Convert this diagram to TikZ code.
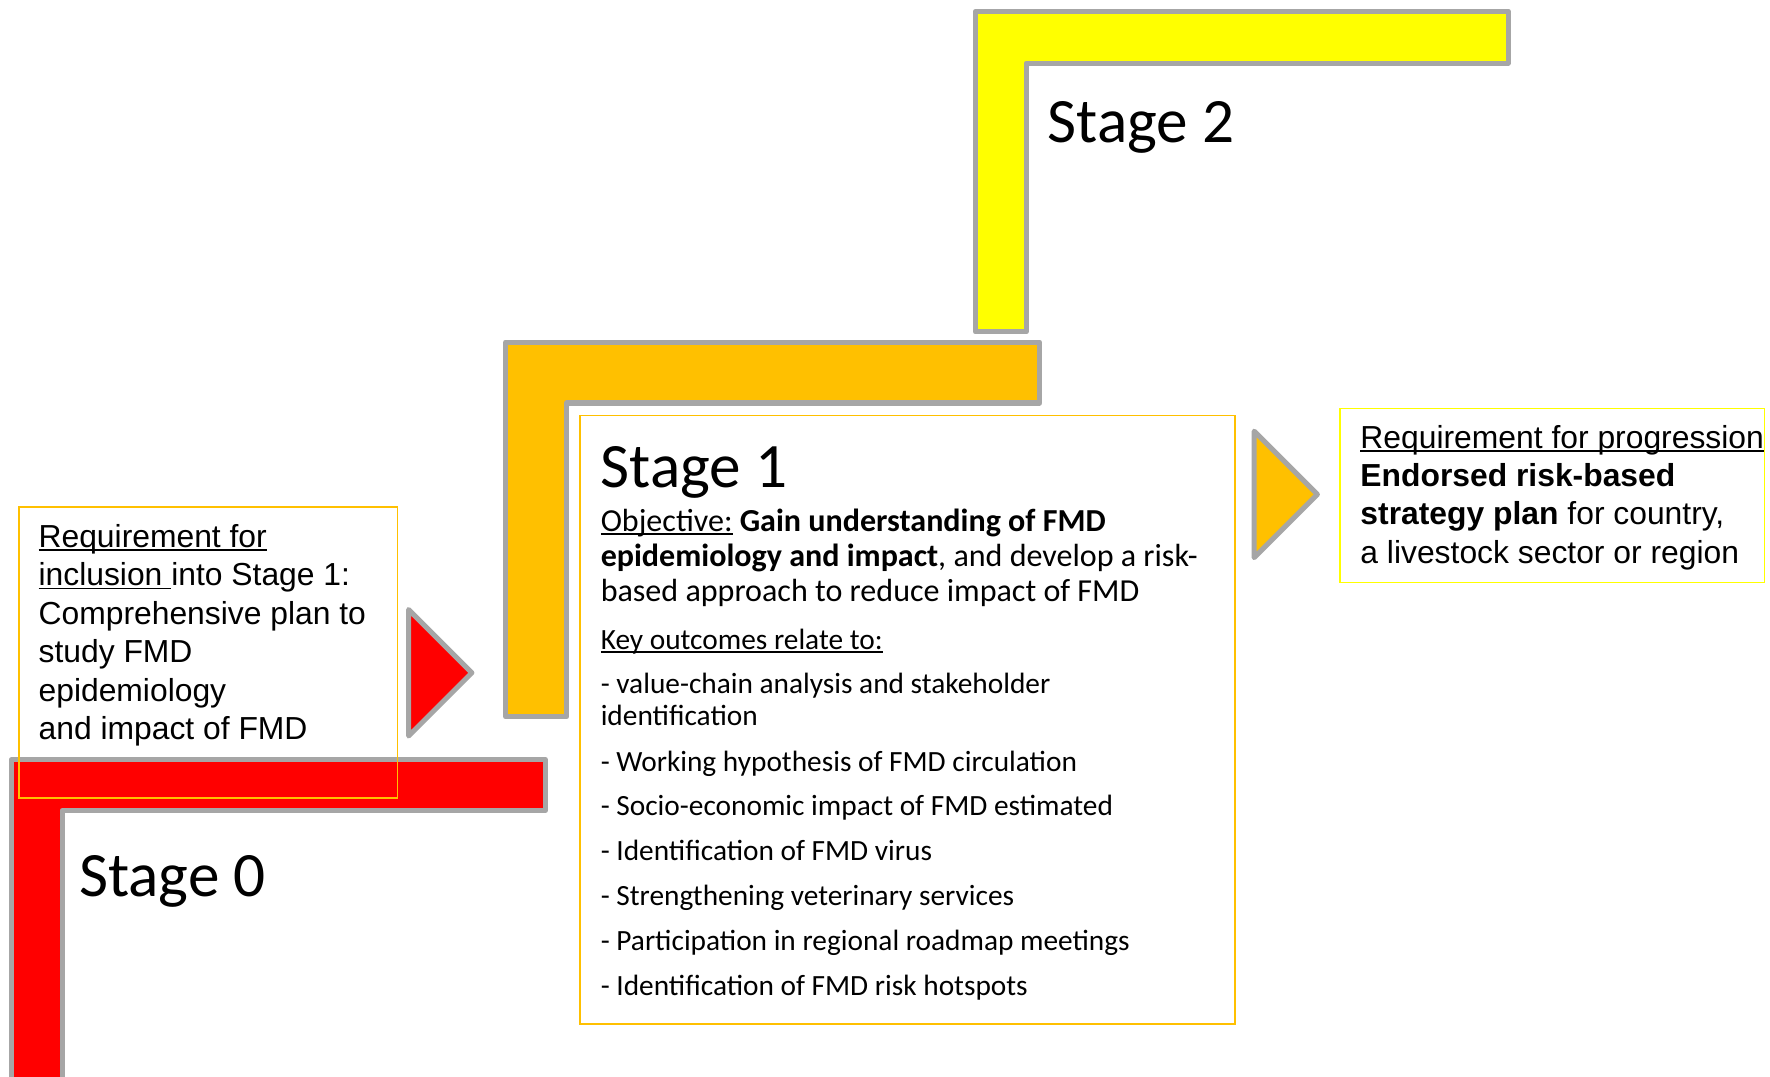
\documentclass[tikz,border=0pt]{standalone}
\usepackage{fontspec}
\setmainfont{Carlito}
\newfontfamily\arialfont{Liberation Sans}

% text with a rule a little below its baseline
\newsavebox{\undlbox}
\newcommand{\undl}[1]{\sbox{\undlbox}{#1}\rlap{\rule[-3.2pt]{\wd\undlbox}{1.7pt}}\usebox{\undlbox}}

\definecolor{barline}{HTML}{A6A6A6}
\definecolor{stagered}{HTML}{FF0000}
\definecolor{stageorange}{HTML}{FFC000}
\definecolor{stageyellow}{HTML}{FFFF00}
\definecolor{paleedge}{HTML}{D6C24A}

% orange fill with a paler strip along the left edge
\pgfdeclarehorizontalshading{pointershade}{100bp}{%
  color(0bp)=(paleedge); color(12bp)=(stageorange); color(100bp)=(stageorange)}

\tikzset{
  stagebar/.style={draw=barline, line width=4.5pt, line join=round},
  pointer/.style={draw=barline, line width=4.5pt, line join=round},
  reqbox/.style={line width=1.5pt},
  arialtxt/.style={font=\arialfont\fontsize{28.2}{34}\selectfont, anchor=base west, inner sep=0pt},
  objtxt/.style={font=\fontsize{28.4}{31}\selectfont, anchor=base west, inner sep=0pt},
  bodytxt/.style={font=\fontsize{26}{31}\selectfont, anchor=base west, inner sep=0pt},
  stagetxt/.style={font=\fontsize{56}{67}\selectfont, anchor=base west, inner sep=0pt},
}

\begin{document}
\begin{tikzpicture}[x=1pt, y=-1pt]
  \clip (0,0) rectangle (1568,954);
  \fill[white] (0,0) rectangle (1568,954);

  % L-shaped stage steps
  \draw[stagebar, fill=stageyellow]
    (864,10) -- (1336,10) -- (1336,56) -- (909,56) -- (909,294) -- (864,294) -- cycle;
  \draw[stagebar, fill=stageorange]
    (448,303) -- (921,303) -- (921,357) -- (502,357) -- (502,635) -- (448,635) -- cycle;
  \draw[stagebar, fill=stagered]
    (10,673) -- (483,673) -- (483,718) -- (55,718) -- (55,980) -- (10,980) -- cycle;

  % stage titles
  \node[stagetxt] (s2) at (928,126) {Stage 2};
  \node[stagetxt] (s0) at (70,794) {Stage 0};

  % requirement for inclusion
  \draw[reqbox, draw=stageorange] (17,449) rectangle (352,707);
  \node[arialtxt] (inc1) at (34,485) {\undl{Requirement for}};
  \node[arialtxt] (inc2) at (34,519) {\undl{inclusion }into Stage 1:};
  \node[arialtxt] (inc3) at (34,553) {Comprehensive plan to};
  \node[arialtxt] (inc4) at (34,587) {study FMD};
  \node[arialtxt] (inc5) at (34,621) {epidemiology};
  \node[arialtxt] (inc6) at (34,655) {and impact of FMD};

  % pointer into stage 1
  \draw[pointer, fill=stagered] (362,540) -- (418,596) -- (362,652) -- cycle;

  % stage 1 content
  \draw[reqbox, draw=stageorange] (514,368) rectangle (1094,907);
  \node[stagetxt] (s1) at (532,432) {Stage 1};
  \node[objtxt] (obj1) at (532,471) {\undl{Objective:} \textbf{Gain understanding of FMD}};
  \node[objtxt] (obj2) at (532,502) {\textbf{epidemiology and impact}, and develop a risk-};
  \node[objtxt] (obj3) at (532,533) {based approach to reduce impact of FMD};
  \node[bodytxt] (key) at (532,575) {\undl{Key outcomes relate to:}};
  \node[bodytxt] (k1a) at (532,614) {- value-chain analysis and stakeholder};
  \node[bodytxt] (k1b) at (532,643) {identification};
  \node[bodytxt] (k2) at (532,683) {- Working hypothesis of FMD circulation};
  \node[bodytxt] (k3) at (532,722) {- Socio-economic impact of FMD estimated};
  \node[bodytxt] (k4) at (532,762) {- Identification of FMD virus};
  \node[bodytxt] (k5) at (532,802) {- Strengthening veterinary services};
  \node[bodytxt] (k6) at (532,842) {- Participation in regional roadmap meetings};
  \node[bodytxt] (k7) at (532,882) {- Identification of FMD risk hotspots};

  % pointer out of stage 1
  \draw[pointer, shading=pointershade] (1111,382) -- (1167,438) -- (1111,494) -- cycle;

  % requirement for progression
  \draw[reqbox, draw=stageyellow] (1187,362) rectangle (1563,516);
  \node[arialtxt] (pr1) at (1205,397) {\undl{Requirement for progression}};
  \node[arialtxt] (pr2) at (1205,431) {\textbf{Endorsed risk-based}};
  \node[arialtxt] (pr3) at (1205,465) {\textbf{strategy plan} for country,};
  \node[arialtxt] (pr4) at (1205,499) {a livestock sector or region};
\end{tikzpicture}
\end{document}
